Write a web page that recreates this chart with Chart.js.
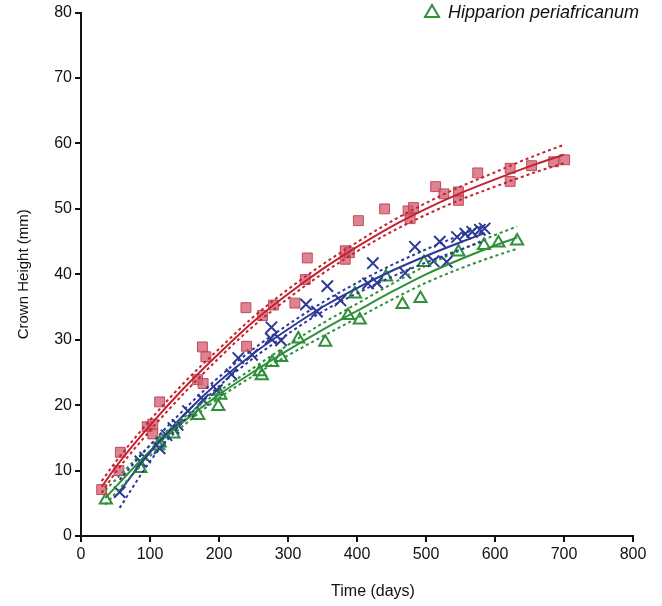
<!DOCTYPE html>
<html>
<head>
<meta charset="utf-8">
<script src="https://cdn.jsdelivr.net/npm/chart.js@4"></script>
<style>
  html, body { margin: 0; padding: 0; background: #fff; }
  #wrap { position: relative; width: 662px; height: 606px; overflow: hidden; }
  #legend { position: absolute; left: 423px; top: 2px; font: italic 18px "Liberation Sans", Arial, sans-serif; color: #111; white-space: nowrap; }
  #legend svg { vertical-align: -1px; margin-right: 7px; }
  #xtitle { position: absolute; left: 300px; width: 146px; top: 582px; text-align: center; font: 16px "Liberation Sans", Arial, sans-serif; color: #111; }
</style>
</head>
<body>
<div id="wrap">
  <canvas id="chart" width="662" height="606"></canvas>
  <div id="legend"><svg width="18" height="16"><polygon points="9,2 16,14 2,14" fill="none" stroke="#2f8f3a" stroke-width="2"/></svg>Hipparion periafricanum</div>
  <div id="xtitle">Time (days)</div>
</div>
<script>
// observed teeth: [day, crown height mm]
const redPoints = [[30,7.1],[55,10.0],[57,12.8],[96,16.7],[104,17.1],[104,15.6],[114,20.5],[169,23.9],[176,28.9],[177,23.3],[181,27.4],[239,34.9],[240,29.0],[263,33.7],[279,35.3],[310,35.6],[325,39.2],[328,42.5],[383,43.6],[383,42.3],[389,43.3],[402,48.2],[440,50.0],[474,49.7],[477,48.5],[482,50.2],[514,53.4],[526,52.3],[547,52.6],[547,51.3],[575,55.5],[622,56.2],[622,54.2],[653,56.6],[685,57.2],[701,57.5]];
const bluePoints = [[56,6.7],[86,11.4],[93,12.0],[114,13.4],[124,15.4],[134,16.5],[140,17.0],[155,19.1],[177,20.8],[197,22.3],[218,24.7],[228,27.2],[248,27.7],[275,30.2],[276,31.9],[290,29.9],[326,35.4],[342,34.3],[357,38.2],[376,36.0],[416,38.6],[423,41.7],[429,38.7],[470,40.2],[484,44.2],[511,42.0],[520,45.0],[530,41.9],[545,45.7],[557,46.2],[567,46.5],[578,46.8],[585,47.0]];
const greenPoints = [[36,5.5],[86,10.3],[112,13.8],[114,14.2],[134,15.6],[170,18.4],[199,19.8],[202,21.5],[259,25.1],[262,24.5],[277,26.5],[290,27.3],[315,30.1],[354,29.6],[387,33.7],[397,37.0],[404,33.0],[442,39.6],[466,35.4],[492,36.3],[497,41.8],[547,43.4],[584,44.4],[605,44.8],[632,45.1]];

// fitted curves and their bands
const redDays = [30,50,100,150,200,250,300,350,400,450,500,550,600,650,700];
const redFit = [7.5,10.5,16.9,22.7,27.9,32.8,37.0,40.8,44.2,47.3,50.0,52.4,54.5,56.5,58.3];
const redUpper = [8.4,11.3,17.7,23.5,28.6,33.5,37.7,41.5,44.9,48.1,50.9,53.4,55.6,57.8,59.8];
const redLower = [6.6,9.7,16.1,21.9,27.2,32.1,36.3,40.1,43.5,46.5,49.1,51.4,53.4,55.3,57.0];

const blueDays = [56,100,150,200,250,300,350,400,450,500,550,585];
const blueFit = [6.8,12.8,18.6,23.6,27.9,31.6,35.0,37.9,40.5,42.8,44.9,46.3];
const blueUpper = [8.6,13.9,19.4,24.3,28.6,32.3,35.7,38.7,41.4,43.8,46.0,47.5];
const blueLower = [4.3,11.4,17.7,22.9,27.2,30.9,34.3,37.1,39.6,41.8,43.8,45.1];

const greenDays = [35,100,150,200,250,300,350,400,450,500,550,600,632];
const greenFit = [5.8,13.0,17.6,21.6,25.1,28.4,31.5,34.4,37.3,40.0,42.3,44.4,45.6];
const greenUpper = [7.0,13.8,18.2,22.1,25.7,29.2,32.5,35.5,38.5,41.3,43.7,46.0,47.3];
const greenLower = [4.8,12.2,17.0,21.1,24.5,27.6,30.5,33.3,36.1,38.7,40.9,42.8,43.9];

const xTicks = [0,100,200,300,400,500,600,700,800];
const yTicks = [0,10,20,30,40,50,60,70,80];

const RED = "#c4222f", BLUE = "#2c3996", GREEN = "#2f8f3a";

function pts(arr) { return arr.map(([x, y]) => ({ x, y })); }
function curve(days, vals) { return days.map((d, i) => ({ x: d, y: vals[i] })); }

function fitLine(days, vals, color, dashed) {
  return {
    data: curve(days, vals),
    showLine: true,
    borderColor: color,
    borderWidth: 2,
    borderDash: dashed ? [3, 3] : [],
    pointRadius: 0,
    cubicInterpolationMode: "monotone",
    fill: false,
  };
}

const datasets = [
  fitLine(redDays, redUpper, RED, true),
  fitLine(redDays, redLower, RED, true),
  fitLine(blueDays, blueUpper, BLUE, true),
  fitLine(blueDays, blueLower, BLUE, true),
  fitLine(greenDays, greenUpper, GREEN, true),
  fitLine(greenDays, greenLower, GREEN, true),
  fitLine(redDays, redFit, RED, false),
  fitLine(blueDays, blueFit, BLUE, false),
  fitLine(greenDays, greenFit, GREEN, false),
  {
    data: pts(redPoints),
    pointStyle: "rect",
    pointRadius: 7,
    backgroundColor: "rgba(212, 96, 114, 0.78)",
    borderColor: "rgba(190, 62, 80, 0.9)",
    borderWidth: 1,
  },
  {
    data: pts(bluePoints),
    pointStyle: "crossRot",
    pointRadius: 8,
    borderColor: BLUE,
    borderWidth: 2,
  },
  {
    data: pts(greenPoints),
    pointStyle: "triangle",
    pointRadius: 7,
    backgroundColor: "rgba(0,0,0,0)",
    borderColor: GREEN,
    borderWidth: 2,
  },
];

const font = { family: "'Liberation Sans', Arial, sans-serif", size: 16 };

new Chart(document.getElementById("chart"), {
  type: "scatter",
  data: { datasets },
  options: {
    responsive: false,
    animation: false,
    layout: { padding: { left: 0, top: 12, right: 29, bottom: 0 } },
    plugins: { legend: { display: false }, tooltip: { enabled: false } },
    scales: {
      x: {
        type: "linear",
        min: 0,
        max: 800,
        afterFit: (s) => { s.height = 70; },
        afterBuildTicks: (s) => { s.ticks = xTicks.map((v) => ({ value: v })); },
        border: { color: "#111", width: 2 },
        grid: { drawOnChartArea: false, drawTicks: true, tickLength: 6, color: "#111", lineWidth: 2 },
        ticks: { color: "#111", font, padding: 3, maxRotation: 0 },
      },
      y: {
        type: "linear",
        min: 0,
        max: 80,
        afterFit: (s) => { s.width = 81; },
        afterBuildTicks: (s) => { s.ticks = yTicks.map((v) => ({ value: v })); },
        border: { color: "#111", width: 2 },
        grid: { drawOnChartArea: false, drawTicks: true, tickLength: 6, color: "#111", lineWidth: 2 },
        ticks: { color: "#111", font, padding: 3 },
        title: {
          display: true,
          text: "Crown Height (mm)",
          color: "#111",
          font: { family: font.family, size: 15 },
          padding: { top: 15, bottom: 0 },
        },
      },
    },
  },
});
</script>
</body>
</html>
